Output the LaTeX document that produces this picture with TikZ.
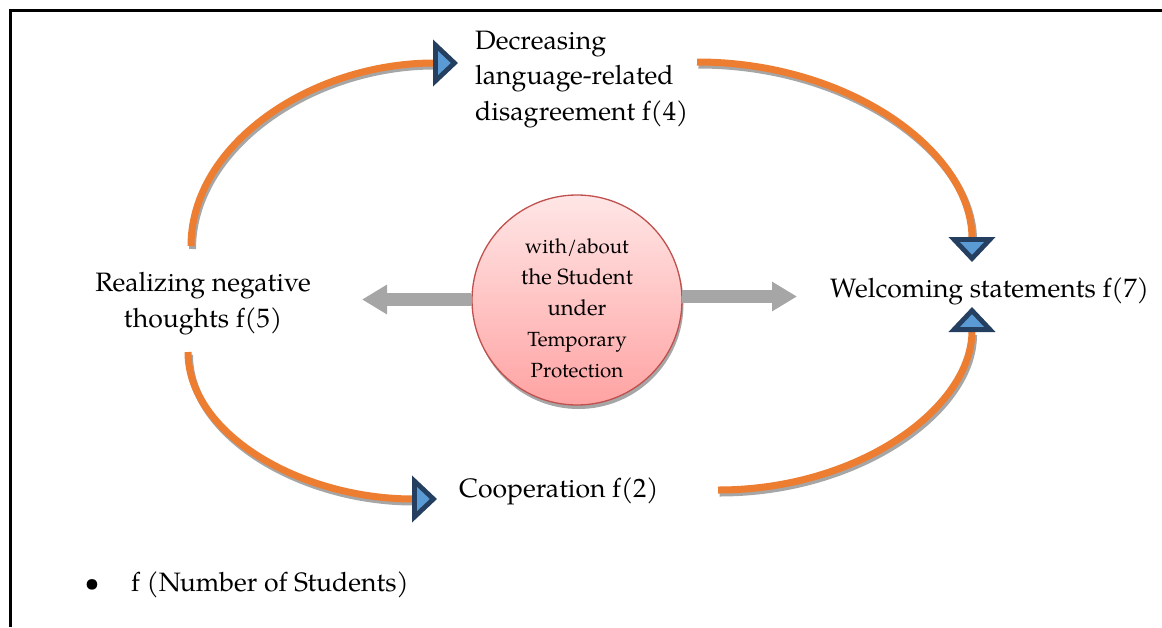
\documentclass[tikz,border=0pt]{standalone}
\usepackage{fontspec}
\setmainfont{TeX Gyre Pagella}
\usetikzlibrary{arrows.meta,shadows}

\definecolor{arcorange}{HTML}{ED7D31}
\definecolor{arcshadow}{HTML}{A6A6A6}
\definecolor{tipnavy}{HTML}{243F60}
\definecolor{tipblue}{HTML}{5B9BD5}
\definecolor{blockgray}{HTML}{A6A6A6}
\definecolor{ringred}{HTML}{C0504D}
\definecolor{pinktop}{HTML}{FFE6E6}
\definecolor{pinkbot}{HTML}{FFA3A3}

\tikzset{
  lbl/.style={inner sep=0pt, font=\fontsize{26.6}{35.5}\selectfont},
  hubtext/.style={inner sep=0pt, align=center, font=\fontsize{22}{31}\selectfont},
  flow/.style={line width=7pt, draw=arcorange,
    -{Triangle[length=25pt,width=46pt,line width=4.8pt,color=tipnavy,fill=tipblue]}},
  flowshadow/.style={line width=7pt, draw=arcshadow, shorten >=25pt,
    transform canvas={shift={(1.5pt,-3pt)}}},
  push/.style={line width=13pt, draw=blockgray, -{Triangle[length=25pt,width=28pt]}},
  frame/.style={line width=2.6pt, draw=black},
}

\begin{document}
\begin{tikzpicture}[x=1pt,y=1pt]
  \useasboundingbox (0,0) rectangle (1162,-627);

  % frame (top and left edges only)
  \draw[frame] (10.2,-627) |- (1162,-10.2);

  % text labels (base anchor = baseline of the last line)
  \node[lbl, anchor=base west, align=left] (dec) at (475,-120)
    {Decreasing\\language-related\\disagreement f(4)};
  \node[lbl, anchor=base, align=center] (real) at (203,-327)
    {Realizing negative\\thoughts f(5)};
  \node[lbl, anchor=base west] (welc) at (830,-297) {Welcoming statements f(7)};
  \node[lbl, anchor=base west] (coop) at (459,-497) {Cooperation f(2)};

  % arc end points
  \coordinate (a1s) at (191,-246);
  \coordinate (a2s) at (697,-62);
  \coordinate (a3s) at (188,-352);
  \coordinate (a4s) at (718,-490);

  % arc shadows
  \draw[flowshadow] (a1s) arc[start angle=180,end angle=90,x radius=267,y radius=183];
  \draw[flowshadow] (a2s) arc[start angle=90,end angle=0,x radius=275,y radius=200];
  \draw[flowshadow] (a3s) arc[start angle=180,end angle=270,x radius=249,y radius=147];
  \draw[flowshadow] (a4s) arc[start angle=270,end angle=360,x radius=254,y radius=183];

  % orange flow arcs
  \draw[flow] (a1s) arc[start angle=180,end angle=90,x radius=267,y radius=183];
  \draw[flow] (a2s) arc[start angle=90,end angle=0,x radius=275,y radius=200];
  \draw[flow] (a3s) arc[start angle=180,end angle=270,x radius=249,y radius=147];
  \draw[flow] (a4s) arc[start angle=270,end angle=360,x radius=254,y radius=183];

  % central circle
  \node[circle, minimum size=210pt, inner sep=0pt, draw=ringred, line width=1.3pt,
        top color=pinktop, bottom color=pinkbot,
        drop shadow={shadow xshift=1.5pt, shadow yshift=-4pt, fill=arcshadow, opacity=1}]
        (hub) at (577,-300) {};
  \node[hubtext, anchor=base] (hubtxt) at (577,-377)
    {{\fontsize{20.5}{31}\selectfont with/about}\\the Student\\under\\
     {\fontsize{20.5}{31}\selectfont Temporary}\\{\fontsize{20.5}{31}\selectfont Protection}};

  % gray block arrows
  \coordinate (pl) at (362,-299.5);
  \coordinate (pr) at (797,-296.5);
  \draw[push] (hub.west |- pl) -- (pl);
  \draw[push] ([xshift=-1pt]hub.east |- pr) -- (pr);

  % legend
  \node[lbl, anchor=base] (dot) at (92,-591) {\textbullet};
  \node[lbl, anchor=base west] (legend) at (131,-591) {f (Number of Students)};
\end{tikzpicture}
\end{document}
